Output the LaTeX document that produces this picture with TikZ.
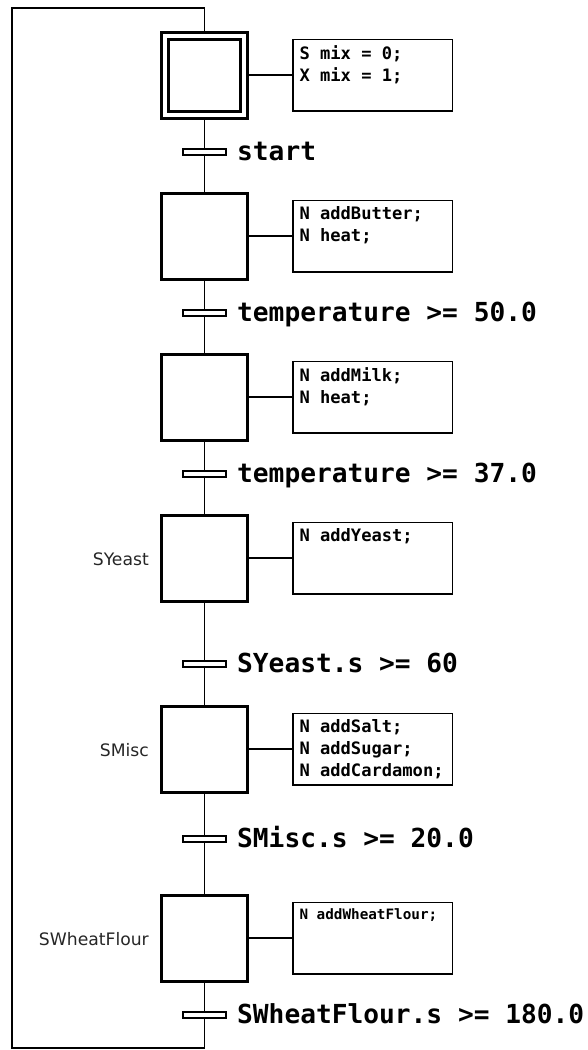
\documentclass[tikz,border=0pt]{standalone}
\usepackage{fontspec}
\setmonofont{DejaVu Sans Mono}
\setsansfont{DejaVu Sans}
\usetikzlibrary{positioning}
\newcommand{\acttext}[1]{\parbox[c][59.5pt][t]{146pt}{\raggedright #1}}
\tikzset{
  stepbox/.style  = {draw, line width=3pt, fill=white, minimum size=86pt, inner sep=0pt},
  initstep/.style = {stepbox, double, double distance=4pt, minimum size=79pt, outer sep=5pt},
  trans/.style    = {draw, line width=2.4pt, fill=white, minimum width=42.6pt,
                     minimum height=5.6pt, inner sep=0pt},
  action/.style   = {draw, line width=1.5pt, inner xsep=6.75pt, inner ysep=6pt,
                     font=\ttfamily\bfseries\fontsize{17.1pt}{22pt}\selectfont},
  wire/.style     = {line width=1.3pt},
  cond/.style     = {font=\ttfamily\bfseries\fontsize{26.2pt}{30pt}\selectfont, inner sep=0pt,
                     text height=19.5pt, text depth=2.5pt},
  stepname/.style = {font=\sffamily\fontsize{17.2pt}{20pt}\selectfont, text=black!85,
                     inner sep=0pt, text height=15pt, text depth=0pt},
}
\begin{document}
\begin{tikzpicture}[x=1pt, y=-1pt]
  \useasboundingbox (0,0) rectangle (587,1050);
  % steps
  \node[initstep] (s1) at (204.5,75) {};
  \node[stepbox] (s2) at (204.5,236) {};
  \node[stepbox] (s3) at (204.5,397) {};
  \node[stepbox] (s4) at (204.5,558) {};
  \node[stepbox] (s5) at (204.5,749) {};
  \node[stepbox] (s6) at (204.5,938) {};
  % transitions
  \node[trans] (t1) at (204.5,152) {};
  \node[trans] (t2) at (204.5,313) {};
  \node[trans] (t3) at (204.5,474) {};
  \node[trans] (t4) at (204.5,664) {};
  \node[trans] (t5) at (204.5,839) {};
  \node[trans] (t6) at (204.5,1015) {};
  \node[cond, right=10pt of t1, anchor=west] (c1) {start};
  \node[cond, right=10pt of t2, anchor=west] (c2) {temperature >= 50.0};
  \node[cond, right=10pt of t3, anchor=west] (c3) {temperature >= 37.0};
  \node[cond, right=10pt of t4, anchor=west] (c4) {SYeast.s >= 60};
  \node[cond, right=10pt of t5, anchor=west] (c5) {SMisc.s >= 20.0};
  \node[cond, right=10pt of t6, anchor=west] (c6) {SWheatFlour.s >= 180.0};
  % actions
  \node[action, right=43pt of s1] (a1) {\acttext{S mix = 0;\\X mix = 1;}};
  \node[action, right=43pt of s2] (a2) {\acttext{N addButter;\\N heat;}};
  \node[action, right=43pt of s3] (a3) {\acttext{N addMilk;\\N heat;}};
  \node[action, right=43pt of s4] (a4) {\acttext{N addYeast;}};
  \node[action, right=43pt of s5] (a5) {\acttext{N addSalt;\\N addSugar;\\N addCardamon;}};
  \node[action, right=43pt of s6, font=\ttfamily\bfseries\fontsize{14.3pt}{18pt}\selectfont]
    (a6) {\acttext{N addWheatFlour;}};
  % step names
  \node[stepname, left=11pt of s4] (n4) {SYeast};
  \node[stepname, left=11pt of s5] (n5) {SMisc};
  \node[stepname, left=11pt of s6] (n6) {SWheatFlour};
  % links
  \draw[wire] (s1) -- (t1);
  \draw[wire] (t1) -- (s2);
  \draw[wire] (s2) -- (t2);
  \draw[wire] (t2) -- (s3);
  \draw[wire] (s3) -- (t3);
  \draw[wire] (t3) -- (s4);
  \draw[wire] (s4) -- (t4);
  \draw[wire] (t4) -- (s5);
  \draw[wire] (s5) -- (t5);
  \draw[wire] (t5) -- (s6);
  \draw[wire] (s6) -- (t6);
  \draw[wire] (s1) -- (a1);
  \draw[wire] (s2) -- (a2);
  \draw[wire] (s3) -- (a3);
  \draw[wire] (s4) -- (a4);
  \draw[wire] (s5) -- (a5);
  \draw[wire] (s6) -- (a6);
  % loop back to the initial step
  \coordinate (loopbl) at (12,1048);
  \coordinate (looptl) at (12,8);
  \draw[wire] (t6.south) |- (loopbl) -- (looptl) -| (s1.north);
\end{tikzpicture}
\end{document}
